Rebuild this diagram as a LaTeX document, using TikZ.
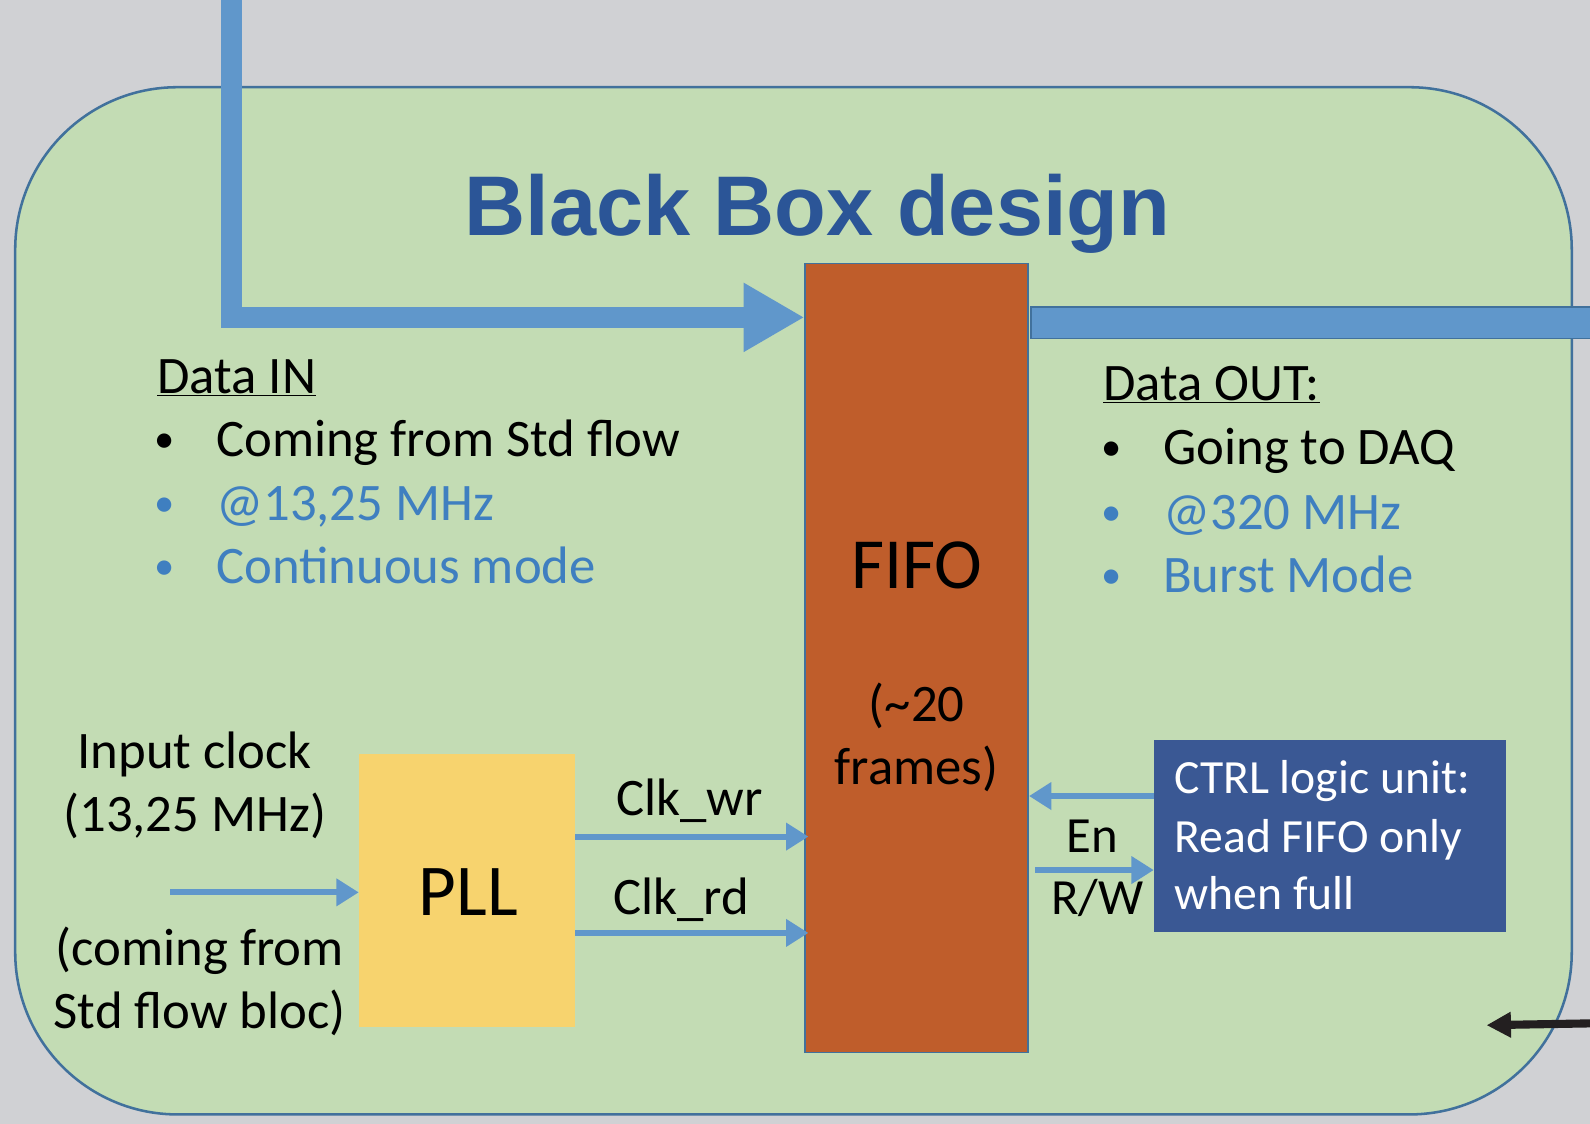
\documentclass[tikz,border=0pt]{standalone}
\usepackage{fontspec}
\setmainfont{Carlito}
\newfontfamily\headfont{Liberation Sans}
\usetikzlibrary{arrows.meta}

\definecolor{pagegray}{HTML}{D0D1D4}
\definecolor{boxgreen}{HTML}{C3DCB4}
\definecolor{edgeblue}{HTML}{41719C}
\definecolor{flowblue}{HTML}{6097CB}
\definecolor{fifoorange}{HTML}{BF5D2B}
\definecolor{pllyellow}{HTML}{F7D36E}
\definecolor{ctrlblue}{HTML}{3A5894}
\definecolor{titleblue}{HTML}{2B5597}
\definecolor{noteblue}{HTML}{3F7FC0}
\definecolor{darkarrow}{HTML}{231F20}

\tikzset{
  txt/.style={inner sep=0pt, anchor=base west, font=\fontsize{52}{62}\selectfont},
  ctxt/.style={inner sep=0pt, anchor=base, font=\fontsize{52}{62}\selectfont},
  dot/.style={inner sep=0pt, anchor=base, font=\fontsize{40}{48}\selectfont},
  blockbox/.style={draw=edgeblue, line width=1.5pt, inner sep=0pt},
  sigarrow/.style={draw=flowblue, line width=6pt,
    -{Triangle[length=22pt,width=26pt]}},
  busarrow/.style={draw=flowblue, line width=21pt, line join=miter,
    -{Triangle[length=60pt,width=64pt]}},
}

\begin{document}
\begin{tikzpicture}[x=1pt, y=-1pt]
  \useasboundingbox (0,0) rectangle (1568,1108);
  \clip (0,0) rectangle (1568,1108);
  \fill[pagegray] (0,0) rectangle (1568,1108);

  % enclosing block
  \draw[fill=boxgreen, draw=edgeblue, line width=2.5pt, rounded corners=160pt]
    (15,86) rectangle (1550,1099);

  % title
  \node[inner sep=0pt, anchor=base, text=titleblue,
        font=\headfont\bfseries\fontsize{83.5}{96}\selectfont]
    (title) at (806,232) {Black Box design};

  % main blocks
  \node[blockbox, fill=fifoorange, minimum width=220pt, minimum height=778pt]
    (fifo) at (904,649) {};
  \node[ctxt, font=\fontsize{71}{80}\selectfont] (fifolbl) at (904,580) {FIFO};
  \node[ctxt] (fifosz1) at (904,712) {(\textasciitilde20};
  \node[ctxt] (fifosz2) at (904,774) {frames)};

  \node[inner sep=0pt, fill=pllyellow, minimum width=213pt, minimum height=269pt]
    (pll) at (460.5,878.5) {};
  \node[ctxt, font=\fontsize{72}{80}\selectfont] (plllbl) at (462,903) {PLL};

  \node[inner sep=0pt, fill=ctrlblue, minimum width=347pt, minimum height=189pt]
    (ctrl) at (1311.5,824.5) {};
  \node[txt, text=white, font=\fontsize{47}{57}\selectfont] (ctrl1) at (1158,783) {CTRL logic unit:};
  \node[txt, text=white, font=\fontsize{47}{57}\selectfont] (ctrl2) at (1158,841) {Read FIFO only};
  \node[txt, text=white, font=\fontsize{47}{57}\selectfont] (ctrl3) at (1158,897) {when full};

  % data input bus
  \coordinate (dinTop) at (228,-5);
  \coordinate (dinBend) at (228,313);
  \draw[busarrow] (dinTop) -- (dinBend) -- (dinBend -| fifo.west);

  % data output bus
  \coordinate (doutEnd) at (1580,334);
  \draw[fill=flowblue, draw=edgeblue, line width=1.5pt]
    ([xshift=2pt]fifo.east |- 0,303) rectangle (doutEnd);

  % data in notes
  \node[txt] (dinhead) at (155,388) {\underline{Data IN}};
  \node[dot] (dinb1) at (162,446) {\textbullet};
  \node[txt] (din1) at (213,450) {Coming from Std flow};
  \node[dot, text=noteblue] (dinb2) at (162,509) {\textbullet};
  \node[txt, text=noteblue] (din2) at (213,513) {@13,25 MHz};
  \node[dot, text=noteblue] (dinb3) at (162,571) {\textbullet};
  \node[txt, text=noteblue] (din3) at (213,575) {Continuous mode};

  % data out notes
  \node[txt] (douthead) at (1088,395) {\underline{Data OUT:}};
  \node[dot] (doutb1) at (1096,454) {\textbullet};
  \node[txt] (dout1) at (1147,458) {Going to DAQ};
  \node[dot, text=noteblue] (doutb2) at (1096,518) {\textbullet};
  \node[txt, text=noteblue] (dout2) at (1147,522) {@320 MHz};
  \node[dot, text=noteblue] (doutb3) at (1096,580) {\textbullet};
  \node[txt, text=noteblue] (dout3) at (1147,584) {Burst Mode};

  % clock input
  \node[ctxt] (clk1) at (192,758) {Input clock};
  \node[ctxt] (clk2) at (192,820) {(13,25 MHz)};
  \node[ctxt] (clk3) at (197,952) {(coming from};
  \node[ctxt] (clk4) at (197,1014) {Std flow bloc)};
  \coordinate (clkIn) at (168,880);
  \draw[sigarrow] (clkIn) -- (clkIn -| pll.west);

  % PLL clocks to FIFO
  \draw[sigarrow] (pll.east |- 0,825) -- ([xshift=4pt]fifo.west |- 0,825);
  \node[ctxt] (wrlbl) at (680,804) {Clk\_wr};
  \draw[sigarrow] (pll.east |- 0,920) -- ([xshift=4pt]fifo.west |- 0,920);
  \node[ctxt] (rdlbl) at (672,902) {Clk\_rd};

  % control signals
  \draw[sigarrow] (ctrl.west |- 0,785) -- (fifo.east |- 0,785);
  \draw[sigarrow] ([xshift=6pt]fifo.east |- 0,858) -- (ctrl.west |- 0,858);
  \node[ctxt, font=\fontsize{50}{60}\selectfont] (enlbl) at (1077,841) {En};
  \node[ctxt, font=\fontsize{50}{60}\selectfont] (rwlbl) at (1082,902) {R/W};

  % incoming link at the lower right
  \coordinate (extSrc) at (1580,1009);
  \coordinate (extTip) at (1466,1011);
  \draw[draw=darkarrow, line width=8pt, -{Triangle[length=24pt,width=24pt]}]
    (extSrc) -- (extTip);
\end{tikzpicture}
\end{document}
